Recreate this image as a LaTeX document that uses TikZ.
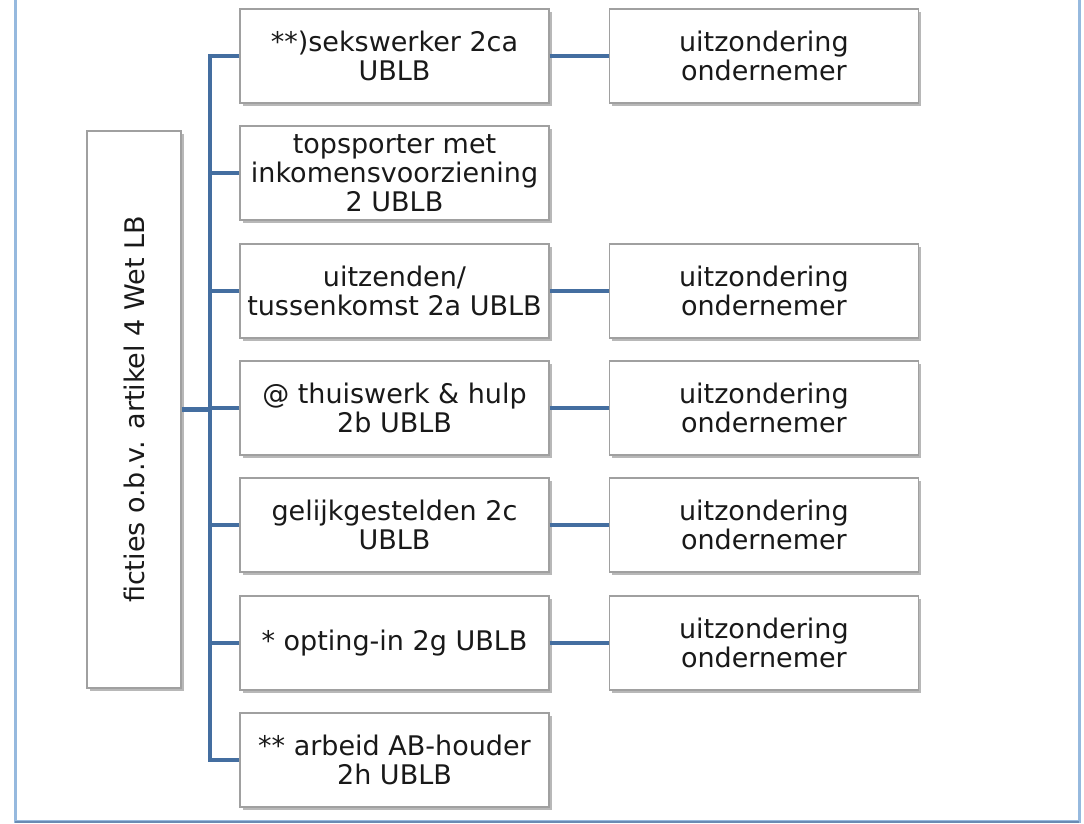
\documentclass[tikz,border=0pt]{standalone}
\usepackage{fontspec}
\setmainfont{DejaVu Sans}
\usetikzlibrary{shadows}
\usetikzlibrary{positioning}

\definecolor{linkblue}{RGB}{68,110,160}
\definecolor{framblue}{RGB}{150,185,222}
\definecolor{boxgray}{RGB}{160,160,160}

\tikzset{
    card/.style = {draw=boxgray, line width=1.4pt, fill=white, minimum width=309pt, minimum height=94pt,
        align=center, inner sep=1pt, text=black!90, font=\fontsize{27}{29}\selectfont,
        drop shadow={shadow xshift=2.5pt, shadow yshift=-3pt, opacity=0.5, fill=black!55}},
    link/.style = {draw=linkblue, line width=4.5pt, line join=miter},
}

\begin{document}
\begin{tikzpicture}[x=1pt, y=-1pt]

    \useasboundingbox (0,0) rectangle (1084,823);

    % page frame
    \fill[white] (15,0) rectangle (1079,820);
    \draw[framblue, line width=3pt] (15,0) -- (15,821) -- (1079,821) -- (1079,0);
    \draw[linkblue!80, line width=1.5pt] (15,822) -- (1079,822);

    \node[card, minimum width=94pt, minimum height=557pt] (ficties) at (134,409.5) {\rotatebox{90}{ficties o.b.v. artikel 4 Wet LB}};

    \node[card] (m1) at (394.5,56) {**)sekswerker 2ca\\UBLB};
    \node[card] (m2) at (394.5,173) {topsporter met\\inkomensvoorziening\\2 UBLB};
    \node[card] (m3) at (394.5,291) {uitzenden/\\tussenkomst 2a UBLB};
    \node[card] (m4) at (394.5,408) {@ thuiswerk \& hulp\\2b UBLB};
    \node[card] (m5) at (394.5,525) {gelijkgestelden 2c\\UBLB};
    \node[card] (m6) at (394.5,643) {* opting-in 2g UBLB};
    \node[card] (m7) at (394.5,760) {** arbeid AB-houder\\2h UBLB};

    \node[card, right=59pt of m1] (r1) {uitzondering\\ondernemer};
    \node[card, right=59pt of m3] (r3) {uitzondering\\ondernemer};
    \node[card, right=59pt of m4] (r4) {uitzondering\\ondernemer};
    \node[card, right=59pt of m5] (r5) {uitzondering\\ondernemer};
    \node[card, right=59pt of m6] (r6) {uitzondering\\ondernemer};

    % trunk
    \coordinate (top) at (210,56);
    \coordinate (bot) at (210,760);
    \draw[link] (m1.west) -- (top) -- (bot) -- (m7.west);
    \draw[link] (ficties.east) -- (top |- ficties.east);
    \foreach \i in {2,...,6}
        \draw[link] (m\i.west) -- (top |- m\i.west);
    \foreach \i in {1,3,4,5,6}
        \draw[link] (m\i.east) -- (r\i.west);

\end{tikzpicture}
\end{document}
